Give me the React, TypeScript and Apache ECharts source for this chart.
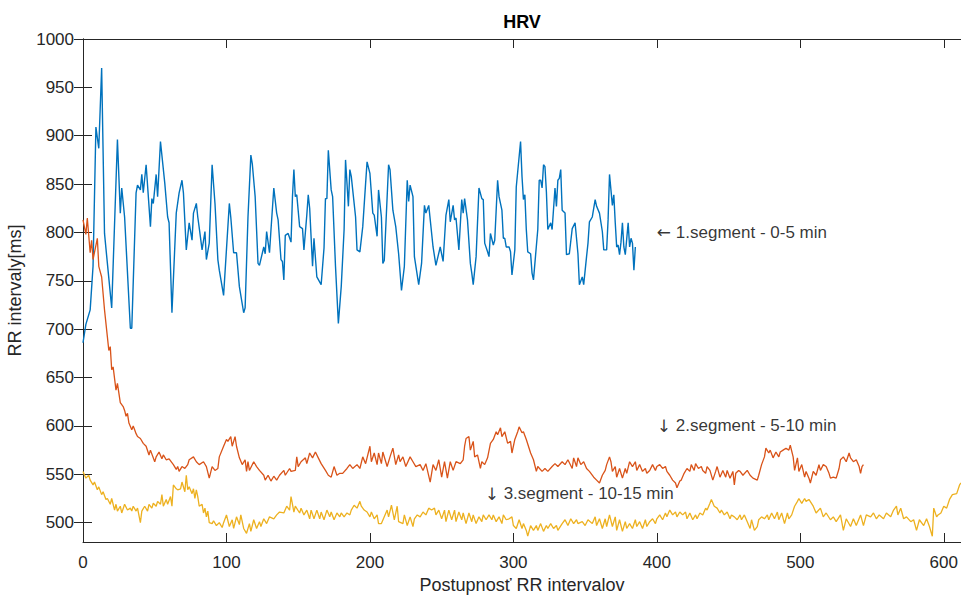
import React, { useEffect, useRef } from "react";
import * as echarts from "echarts";

const xTicks = [0, 100, 200, 300, 400, 500, 600];
const yTicks = [500, 550, 600, 650, 700, 750, 800, 850, 900, 950, 1000];

// 1. segment (0-5 min)
const segment1: [number, number][] = [
  [0,686],[2,705],[5,720],[7,765],[9,909],[11,887],[13,970],[15,799],[17,768],[20,722],[24,896],[26,820],[27,846],[29,816],[33,701],[34,701],[37,841],[38,849],[40,844],[41,860],[42,841],[44,870],[47,806],[48,835],[49,830],[51,860],[52,837],[54,894],[57,851],[59,816],[60,810],[62,717],[65,820],[67,841],[69,854],[70,841],[72,782],[74,810],[76,792],[77,820],[79,830],[80,816],[81,805],[83,782],[85,801],[86,772],[88,789],[90,870],[92,830],[94,772],[95,761],[98,735],[102,830],[103,816],[105,779],[107,779],[109,744],[112,717],[113,722],[115,816],[117,880],[118,871],[120,837],[122,768],[123,766],[126,785],[127,778],[128,801],[130,779],[131,802],[133,846],[135,820],[136,813],[138,772],[139,770],[140,751],[141,797],[143,799],[145,790],[146,837],[147,865],[148,837],[149,839],[151,806],[153,804],[154,782],[156,818],[157,839],[158,825],[160,765],[161,794],[163,754],[166,746],[168,784],[169,835],[170,835],[171,885],[173,844],[174,837],[176,765],[178,706],[180,744],[182,803],[183,875],[185,827],[186,865],[187,858],[190,816],[191,782],[193,780],[195,806],[197,851],[198,873],[200,861],[202,820],[203,818],[205,796],[206,844],[208,816],[209,768],[210,771],[212,837],[213,870],[214,865],[216,823],[218,806],[220,778],[222,740],[224,765],[226,854],[227,832],[228,849],[230,837],[231,775],[234,746],[236,768],[238,828],[239,820],[241,828],[244,785],[246,766],[249,785],[251,770],[253,818],[255,834],[256,811],[258,828],[259,813],[260,815],[262,782],[264,834],[265,820],[266,835],[268,813],[270,768],[271,758],[272,746],[274,775],[276,846],[278,835],[279,834],[280,789],[282,780],[283,775],[284,799],[286,787],[287,792],[289,854],[290,837],[292,823],[293,794],[294,794],[295,785],[297,785],[298,780],[299,756],[301,782],[302,847],[305,894],[306,858],[307,834],[308,839],[309,803],[310,780],[312,778],[313,758],[314,751],[317,803],[318,854],[319,854],[320,846],[321,870],[322,868],[323,842],[324,803],[326,810],[327,803],[329,846],[330,827],[331,854],[332,856],[333,865],[334,823],[336,820],[337,777],[339,778],[341,804],[343,810],[345,778],[346,746],[348,754],[349,746],[351,775],[352,789],[353,811],[355,816],[357,834],[358,827],[360,820],[362,801],[363,782],[365,782],[366,813],[367,860],[369,828],[370,839],[371,810],[372,785],[373,787],[374,777],[375,790],[376,810],[377,785],[378,777],[380,810],[381,785],[382,794],[383,789],[384,761],[385,785]
];

// 2. segment (5-10 min)
const segment2: [number, number][] = [
  [0,813],[2,798],[3,815],[5,779],[6,792],[7,772],[10,794],[11,765],[13,754],[15,720],[17,692],[18,678],[19,682],[20,658],[21,661],[23,637],[24,644],[26,624],[28,620],[29,616],[30,610],[31,613],[32,603],[34,596],[35,600],[36,596],[37,592],[38,589],[40,587],[42,582],[44,579],[46,570],[47,575],[50,563],[51,568],[53,573],[55,566],[56,570],[58,565],[60,566],[63,560],[65,555],[66,558],[67,553],[69,558],[71,556],[73,560],
  [74,565],[77,568],[79,563],[81,560],[84,563],[86,558],[88,546],[90,558],[92,554],[94,556],[95,568],[98,579],[100,586],[101,584],[103,589],[104,579],[106,589],[107,579],[109,567],[111,560],[113,565],[114,553],[115,563],[116,554],[119,563],[121,558],[123,554],[126,549],[127,544],[129,549],[131,543],[133,548],[135,544],[137,549],[140,554],[141,549],[144,556],[145,553],[148,554],[149,568],[150,558],[152,563],[155,567],[156,561],[158,572],[160,567],[162,573],[164,567],[166,561],[169,554],[171,549],[173,547],[175,558],[177,549],[179,551],[181,551],[184,556],[186,560],[188,556],[191,560],[193,556],[195,568],[197,561],[200,579],[201,563],[203,572],[205,560],[206,572],[208,561],[209,573],[212,558],[214,568],[216,577],[218,560],[220,570],
  [221,563],[223,568],[225,558],[228,568],[230,563],[232,558],[235,560],[237,554],[239,561],[242,542],[244,560],[246,554],[248,565],[250,547],[252,563],[254,546],[256,563],[258,554],[260,563],[263,561],[265,565],[266,579],[267,587],[269,589],[270,575],[272,584],[273,568],[275,570],[277,556],[278,563],[280,560],[282,567],[284,582],[286,586],[288,594],[289,591],[291,598],[292,589],[294,594],[296,582],[298,584],[299,572],[301,586],[303,594],[304,599],[306,593],[307,594],[309,586],[312,572],[314,565],[316,553],[317,558],[320,553],[322,556],[324,553],[327,558],[329,561],[331,558],[334,563],[336,560],[338,565],[341,556],[342,567],[344,558],[345,567],[347,560],[349,563],[351,556],[353,553],[356,547],[358,544],[360,541],[362,549],[364,554],[365,560],[367,568],
  [368,563],[369,553],[371,558],[372,547],[374,556],[376,546],[378,556],[379,551],[381,563],[383,558],[385,563],[386,554],[388,560],[390,553],[392,556],[393,551],[395,554],[397,560],[399,554],[400,558],[402,560],[404,556],[406,558],[407,553],[409,549],[411,544],[413,541],[414,536],[416,543],[417,544],[419,551],[421,556],[423,553],[424,560],[426,554],[427,561],[429,556],[431,558],[432,554],[434,551],[435,558],[437,554],[439,544],[441,553],[442,558],[444,547],[446,554],[448,547],[449,554],[451,546],[453,553],[454,539],[455,551],[457,554],[458,553],[460,549],[463,554],[465,549],[467,546],[470,544],[471,549],[473,560],[475,568],[476,577],[478,572],[479,575],[481,567],[483,573],[485,568],[486,573],[488,575],[490,577],[492,575],[493,580],
  [495,568],[496,554],[498,567],[499,553],[501,560],[503,547],[504,553],[506,546],[507,541],[509,553],[511,549],[513,560],[514,554],[516,560],[518,558],[520,551],[521,546],[523,547],[525,546],[527,556],[528,565],[530,568],[532,563],[534,572],[535,567],[537,563],[539,565],[541,558],[542,551],[543,558],[544,560]
];

// 3. segment (10-15 min)
const segment3: [number, number][] = [
  [0,553],[2,546],[4,549],[5,544],[7,539],[8,542],[10,534],[11,537],[13,529],[14,532],[16,524],[17,525],[19,519],[20,525],[21,519],[22,513],[23,519],[24,512],[26,517],[27,510],[29,519],[31,513],[33,515],[34,512],[35,517],[37,512],[38,515],[40,500],[41,512],[43,517],[45,512],[46,519],[48,515],[49,520],[51,517],[52,522],[54,519],[55,529],[56,517],[58,524],[59,519],[61,527],[62,517],[63,539],[65,535],[66,534],[68,535],[69,542],[71,532],[72,549],[73,534],[74,537],[76,530],[77,535],[78,525],[79,534],[80,527],[81,517],[83,519],[84,510],[85,515],[86,506],[87,512],[88,500],[90,499],[91,502],[93,497],[95,500],[97,495],[98,500],
  [100,508],[102,496],[104,503],[105,494],[107,506],[109,498],[110,508],[112,494],[114,489],[116,499],[117,491],[119,503],[121,494],[123,501],[124,496],[126,504],[128,499],[130,506],[133,504],[135,508],[137,511],[140,510],[142,517],[144,513],[145,527],[147,511],[148,517],[151,510],[152,515],[154,508],[156,513],[158,504],[159,513],[161,504],[163,513],[165,504],[166,511],[168,503],[170,513],[172,506],[173,511],[175,503],[177,510],[179,506],[180,510],[182,506],[184,510],[186,508],[187,513],[189,518],[191,515],[193,522],[194,517],[196,513],[198,511],[200,506],[201,511],[203,504],[205,508],[206,499],[208,499],[210,506],[212,513],[213,506],[215,518],[217,503],[219,517],[220,501],
  [223,499],[224,508],[226,497],[228,506],[230,496],[231,504],[233,508],[235,506],[237,511],[239,508],[241,515],[243,513],[245,515],[246,508],[248,513],[250,504],[252,513],[253,501],[255,513],[257,503],[259,513],[260,501],[262,511],[264,503],[265,510],[267,499],[269,510],[271,501],[272,508],[274,499],[276,506],[278,501],[279,508],[281,503],[283,508],[285,503],[286,508],[288,501],[290,506],[292,499],[293,508],[295,503],[297,504],[299,506],[300,497],[302,494],[304,503],[306,494],[307,499],[309,492],[310,486],[312,497],[314,492],[316,497],[317,492],[319,499],[321,491],[323,497],[324,494],[326,499],[328,494],[330,497],[331,492],[334,499],[336,503],[338,497],[340,504],[342,499],[344,503],[345,499],[348,501],[350,497],[352,503],[355,499],[357,506],[358,497],[360,504],[362,494],[364,504],[365,496],[367,508],[369,496],[371,506],[372,492],[374,503],
  [376,491],[378,501],[379,494],[381,499],[383,494],[385,503],[386,496],[388,501],[390,494],[392,503],[393,496],[395,501],[397,504],[399,499],[400,504],[402,508],[404,503],[406,510],[407,506],[409,513],[411,508],[413,511],[414,506],[416,511],[418,508],[420,511],[421,504],[423,510],[425,503],[427,508],[428,504],[430,510],[432,508],[434,515],[435,513],[437,520],[438,524],[440,517],[442,515],[444,510],[445,513],[447,508],[449,511],[451,504],[452,508],[454,506],[456,503],[458,508],[459,503],[461,508],[463,501],[465,494],[466,503],[468,492],[470,496],[471,503],[473,506],[475,504],[477,508],[478,503],[480,510],[482,504],[484,511],[485,503],[487,510],[489,499],[491,510],[492,504],[494,508],[496,517],[498,522],[499,525],[501,520],[503,525],[504,522],[506,524],
  [509,517],[511,510],[514,515],[516,506],[518,510],[521,503],[523,506],[525,501],[528,508],[530,492],[532,504],[535,496],[537,504],[539,497],[542,508],[544,497],[546,508],[549,506],[551,510],[553,504],[555,508],[558,504],[560,510],[563,506],[565,513],[567,517],[568,508],[570,515],[572,504],[574,506],[577,501],[579,503],[581,492],[583,503],[586,497],[588,504],[590,496],[592,486],[593,515],[595,506],[596,508],[598,510],[600,517],[602,515],[604,524],[606,529],[609,530],[611,539],[612,541]
];

const annotationTexts = ["← 1.segment - 0-5 min", "↓ 2.segment - 5-10 min", "↓ 3.segment - 10-15 min"];
const annotationPoints: [number, number][] = [[400, 800], [400, 600], [280, 530]];

const FONT = "'Liberation Sans', Arial, Helvetica, sans-serif";
const AXIS_COLOR = "#262626";

export default function App() {
  const ref = useRef<HTMLDivElement>(null);

  useEffect(() => {
    if (!ref.current) return;
    const chart = echarts.init(ref.current, null, { renderer: "svg" });
    const lineAxis = { show: true, lineStyle: { color: AXIS_COLOR, width: 1 } };
    const tickStyle = { color: AXIS_COLOR, width: 1 };
    const plain = (v: number) => String(v);
    const option: any = {
      animation: false,
      backgroundColor: "#ffffff",
      grid: { left: 83, top: 39, width: 878, height: 503, containLabel: false, outerBoundsMode: "none" },
      graphic: [
        {
          type: "text",
          x: 522,
          y: 22,
          style: {
            text: "HRV",
            fontFamily: FONT,
            fontSize: 18,
            fontWeight: "bold",
            fill: "#000",
            textAlign: "center",
            textVerticalAlign: "middle",
          },
        },
      ],
      xAxis: [
        {
          type: "value",
          position: "bottom",
          min: 0,
          max: 612,
          axisLine: lineAxis,
          axisTick: { show: true, inside: true, length: 9, customValues: xTicks, lineStyle: tickStyle },
          axisLabel: { customValues: xTicks, formatter: plain, fontSize: 17, color: AXIS_COLOR, fontFamily: FONT, margin: 12 },
          splitLine: { show: false },
          name: "Postupnosť RR intervalov",
          nameLocation: "middle",
          nameGap: 33,
          nameTextStyle: { fontSize: 18, color: AXIS_COLOR, fontFamily: FONT },
        },
        {
          type: "value",
          position: "top",
          min: 0,
          max: 612,
          axisLine: lineAxis,
          axisTick: { show: true, inside: true, length: 9, customValues: xTicks, lineStyle: tickStyle },
          axisLabel: { show: false },
          splitLine: { show: false },
        },
      ],
      yAxis: [
        {
          type: "value",
          position: "left",
          min: 480,
          max: 1000,
          axisLine: lineAxis,
          axisTick: { show: true, inside: true, length: 9, customValues: yTicks, lineStyle: tickStyle },
          axisLabel: { customValues: yTicks, formatter: plain, fontSize: 17, color: AXIS_COLOR, fontFamily: FONT, margin: 9 },
          splitLine: { show: false },
          name: "RR intervaly[ms]",
          nameLocation: "middle",
          nameGap: 59,
          nameTextStyle: { fontSize: 18, color: AXIS_COLOR, fontFamily: FONT },
        },
        {
          type: "value",
          position: "right",
          min: 480,
          max: 1000,
          axisLine: lineAxis,
          axisTick: { show: true, inside: true, length: 9, customValues: yTicks, lineStyle: tickStyle },
          axisLabel: { show: false },
          splitLine: { show: false },
        },
      ],
      series: [
        {
          type: "line",
          name: "1.segment",
          data: segment1,
          showSymbol: false,
          symbol: "none",
          clip: true,
          lineStyle: { color: "#0072BD", width: 1.4 },
          itemStyle: { color: "#0072BD" },
        },
        {
          type: "line",
          name: "2.segment",
          data: segment2,
          showSymbol: false,
          symbol: "none",
          clip: true,
          lineStyle: { color: "#D95319", width: 1.3 },
          itemStyle: { color: "#D95319" },
        },
        {
          type: "line",
          name: "3.segment",
          data: segment3,
          showSymbol: false,
          symbol: "none",
          clip: true,
          lineStyle: { color: "#EDB120", width: 1.3 },
          itemStyle: { color: "#EDB120" },
        },
        {
          type: "scatter",
          name: "annotations",
          silent: true,
          symbolSize: 0,
          data: annotationPoints.map((p, i) => ({ name: annotationTexts[i], value: p })),
          label: {
            show: true,
            position: "right",
            distance: 0,
            formatter: (params: any) => {
              const s: string = params.name;
              return "{arrow|" + s.charAt(0) + "}{txt|" + s.slice(1) + "}";
            },
            rich: {
              arrow: { fontFamily: "'DejaVu Sans', sans-serif", fontSize: 17, color: "#000" },
              txt: { fontFamily: FONT, fontSize: 17, color: "#000" },
            },
            color: "#000",
            fontSize: 17,
            fontFamily: FONT,
          },
          z: 5,
        },
      ],
    };
    chart.setOption(option);
    return () => chart.dispose();
  }, []);

  return (
    <div
      ref={ref}
      style={{ position: "absolute", left: 0, top: 0, width: 961, height: 596, background: "#fff" }}
    />
  );
}
